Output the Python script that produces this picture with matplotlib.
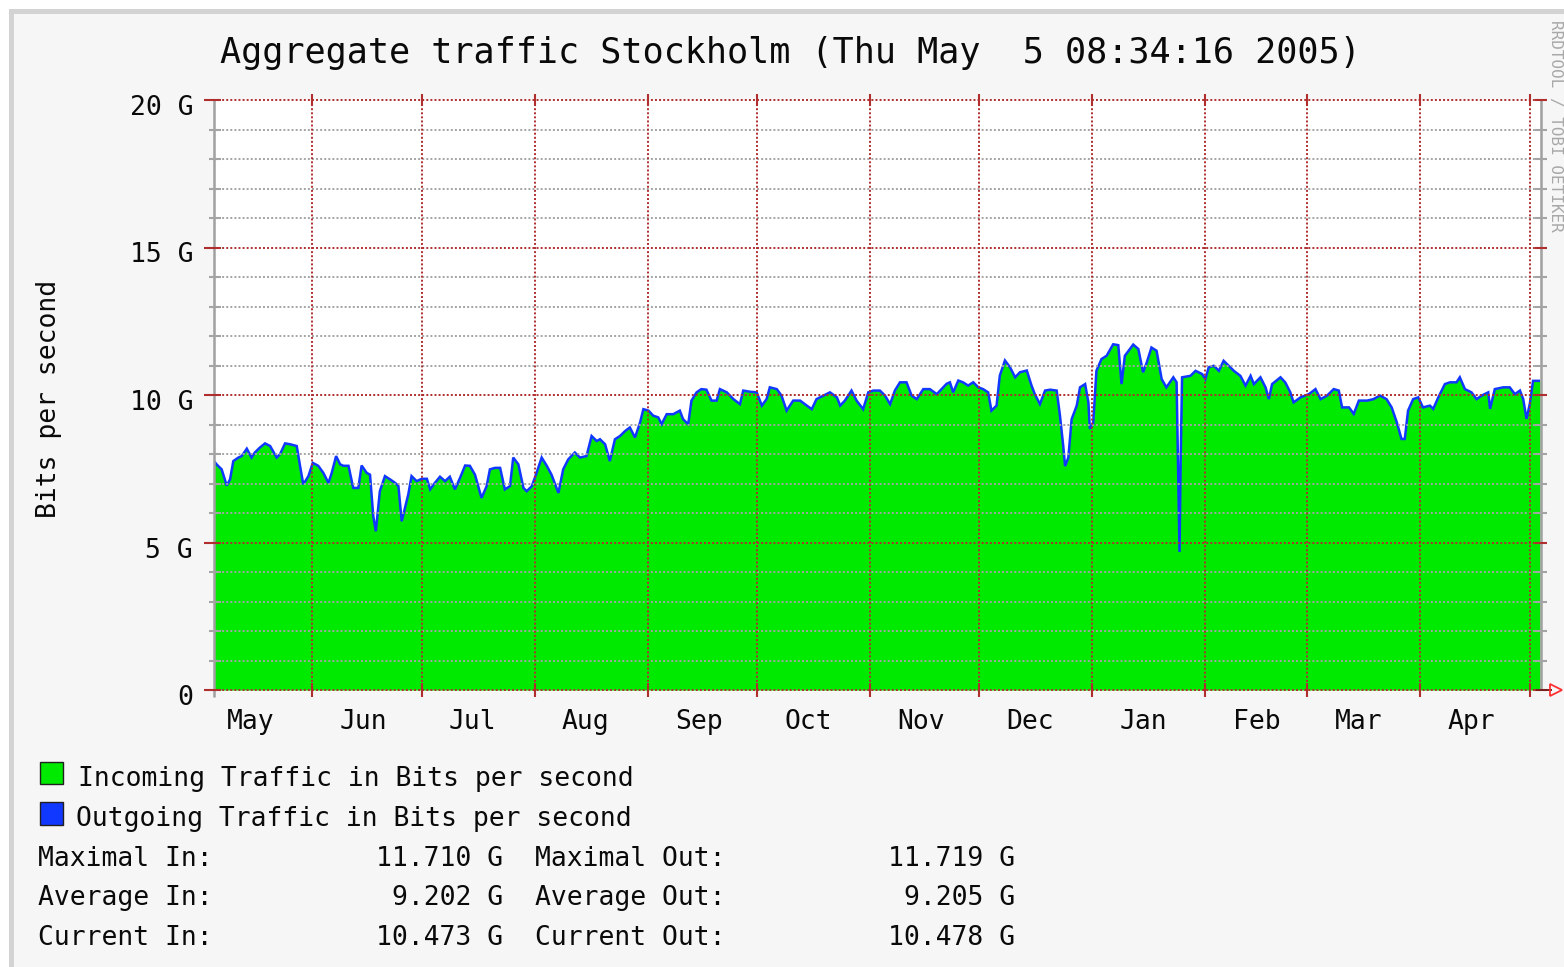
import numpy as np
import matplotlib
matplotlib.use('Agg')
import matplotlib.pyplot as plt
import matplotlib.transforms as mtransforms
from matplotlib.patches import Rectangle

# ---------------- data ----------------
title = "Aggregate traffic Stockholm (Thu May  5 08:34:16 2005)"
period_start = np.datetime64('2004-05-05')
period_days = 363.8

# sample positions, in days since period_start
days = [
    0.0, 0.7, 2.1, 3.5, 4.4, 5.3, 6.7, 7.6, 9.0, 10.3, 11.2, 12.6, 14.0, 15.4, 17.2,
    18.1, 19.5, 20.9, 22.7, 23.6, 24.5, 25.9, 27.1, 28.6, 30.0, 31.4, 32.3, 33.5, 34.6,
    35.5, 36.9, 38.2, 39.6, 40.5, 41.9, 42.8, 43.7, 44.4, 45.5, 46.9, 48.3, 49.7, 50.6,
    51.5, 52.4, 53.3, 54.2, 55.6, 57.0, 58.4, 59.3, 60.6, 62.0, 63.4, 64.7, 66.1, 67.5,
    68.9, 70.2, 71.6, 73.4, 74.8, 75.7, 77.1, 78.5, 79.8, 81.2, 82.1, 83.5, 84.9, 85.8,
    87.2, 88.5, 89.9, 91.3, 92.6, 94.5, 95.8, 97.2, 99.0, 100.4, 102.2, 103.6, 105.0,
    105.9, 107.3, 108.6, 110.0, 111.4, 112.8, 114.1, 115.5, 116.9, 117.8, 119.2, 120.5,
    121.9, 122.8, 124.2, 126.0, 127.8,
    128.7, 130.1, 131.0, 132.4, 133.7, 135.1, 136.5, 137.9, 138.8, 140.7, 142.5, 144.3,
    145.2, 147.1, 148.9, 150.3, 151.6, 152.5, 154.4, 155.7, 157.1, 158.9, 160.8, 162.1,
    164.0, 165.3, 167.2, 169.0, 170.9, 171.8, 173.1, 174.9, 176.3, 178.1, 179.5, 180.9,
    182.7, 184.1, 185.5, 186.8, 188.2, 190.0, 191.4, 192.8, 194.6, 196.4, 198.3, 199.6,
    201.0, 201.9, 202.8, 204.2, 205.5, 206.9, 208.3, 209.7, 211.0, 212.4, 213.3, 214.7,
    215.6, 217.0, 218.4, 219.8, 221.1, 223.0, 224.3, 225.2, 226.6, 228.0, 229.4, 231.2,
    232.1, 233.0, 233.5, 234.4, 235.3, 236.7,
    237.6, 239.0, 239.9, 240.3, 241.2, 242.1, 243.5, 244.9, 246.7, 248.1, 249.0, 249.9,
    252.2, 253.6, 254.9, 255.9, 257.2, 258.6, 260.0, 261.3, 263.2, 264.1, 264.5, 264.9,
    265.2, 265.6, 267.9, 269.3, 271.1, 272.0, 272.9, 274.3, 275.7, 277.0, 278.4, 279.8,
    281.6, 283.0, 284.4, 285.3, 287.1, 288.5, 289.4, 290.3, 292.6, 293.9, 295.3, 296.2,
    298.1, 300.4, 302.2, 303.6, 305.4, 307.2, 308.6, 309.5, 311.4, 312.7, 314.1, 316.4,
    318.1, 319.9, 321.7, 323.1, 324.5, 325.8, 326.7, 327.6, 329.0, 330.4, 331.7, 333.6,
    334.5, 335.9, 337.7, 339.1, 340.9, 341.8, 343.2, 345.0, 346.4, 347.8, 349.6, 350.1,
    351.4, 353.7, 355.5, 356.9, 358.3, 359.2, 360.1, 361.0, 361.9, 363.8,
]

# incoming traffic, Gbit/s
traffic_in = [
    7.76, 7.65, 7.48, 6.93, 7.14, 7.76, 7.88, 7.93, 8.18, 7.88, 8.05, 8.22, 8.36, 8.27, 7.88,
    7.99, 8.36, 8.33, 8.27, 7.60, 6.97, 7.25, 7.70, 7.60, 7.36, 7.02, 7.36, 7.93, 7.65,
    7.60, 7.60, 6.85, 6.85, 7.61, 7.36, 7.30, 5.89, 5.38, 6.74, 7.25, 7.14, 7.02, 6.91,
    5.72, 6.17, 6.63, 7.25, 7.08, 7.16, 7.16, 6.80, 7.02, 7.23, 7.08, 7.23, 6.80, 7.19,
    7.61, 7.60, 7.30, 6.51, 6.91, 7.48, 7.53, 7.53, 6.80, 6.91, 7.88, 7.65, 6.85, 6.74,
    6.91, 7.36, 7.88, 7.60, 7.30, 6.68, 7.48, 7.82, 8.05, 7.88, 7.93, 8.61, 8.44,
    8.50, 8.33, 7.76, 8.50, 8.61, 8.78, 8.90, 8.56, 9.07, 9.52, 9.47, 9.30,
    9.24, 9.01, 9.35, 9.35, 9.47,
    9.18, 9.01, 9.81, 10.09, 10.20, 10.18, 9.81, 9.81, 10.20, 10.09, 9.86, 9.69,
    10.15, 10.11, 10.09, 9.64, 9.86, 10.26, 10.20, 9.98, 9.47, 9.81, 9.81, 9.69,
    9.52, 9.86, 9.98, 10.09, 9.92, 9.64, 9.81, 10.15, 9.81, 9.52, 10.09, 10.15,
    10.15, 9.98, 9.69, 10.15, 10.43, 10.43, 9.98, 9.86, 10.20, 10.20, 10.03, 10.20,
    10.38, 10.43, 10.09, 10.49, 10.43, 10.32, 10.43, 10.26, 10.20, 10.09, 9.47, 9.64,
    10.66, 11.17, 10.94, 10.60, 10.77, 10.83, 10.32, 10.03, 9.69, 10.15, 10.18, 10.15,
    9.30, 8.27, 7.59, 7.88, 9.18, 9.64,
    10.26, 10.37, 9.75, 8.85, 9.02, 10.82, 11.22, 11.33, 11.71, 11.69, 10.37, 11.33,
    11.71, 11.56, 10.77, 11.10, 11.61, 11.50, 10.54, 10.26, 10.60, 10.43, 7.60, 7.60,
    7.70, 10.60, 10.65, 10.82, 10.71, 10.54, 10.94, 10.99, 10.82, 11.16, 10.99, 10.82,
    10.65, 10.32, 10.65, 10.37, 10.60, 10.26, 9.86, 10.37, 10.60, 10.43, 10.09, 9.75,
    9.92, 10.03, 10.20, 9.86, 9.98, 10.20, 10.15, 9.58, 9.58, 9.36, 9.81, 9.81,
    9.86, 9.98, 9.86, 9.58, 9.08, 8.51, 8.51, 9.47, 9.86, 9.92, 9.58, 9.64,
    9.53, 9.92, 10.37, 10.43, 10.43, 10.60, 10.20, 10.09, 9.86, 9.98, 10.09, 9.53,
    10.20, 10.26, 10.26, 10.03, 10.15, 9.86, 9.19, 9.70, 10.47, 10.47,
]

# outgoing traffic, Gbit/s
traffic_out = [
    7.76, 7.65, 7.48, 6.93, 7.14, 7.76, 7.88, 7.93, 8.18, 7.88, 8.05, 8.22, 8.36, 8.27, 7.88,
    7.99, 8.36, 8.33, 8.27, 7.60, 6.97, 7.25, 7.70, 7.60, 7.36, 7.02, 7.36, 7.93, 7.65,
    7.60, 7.60, 6.85, 6.85, 7.61, 7.36, 7.30, 5.89, 5.38, 6.74, 7.25, 7.14, 7.02, 6.91,
    5.72, 6.17, 6.63, 7.25, 7.08, 7.16, 7.16, 6.80, 7.02, 7.23, 7.08, 7.23, 6.80, 7.19,
    7.61, 7.60, 7.30, 6.51, 6.91, 7.48, 7.53, 7.53, 6.80, 6.91, 7.88, 7.65, 6.85, 6.74,
    6.91, 7.36, 7.88, 7.60, 7.30, 6.68, 7.48, 7.82, 8.05, 7.88, 7.93, 8.61, 8.44,
    8.50, 8.33, 7.76, 8.50, 8.61, 8.78, 8.90, 8.56, 9.07, 9.52, 9.47, 9.30,
    9.24, 9.01, 9.35, 9.35, 9.47,
    9.18, 9.01, 9.81, 10.09, 10.20, 10.18, 9.81, 9.81, 10.20, 10.09, 9.86, 9.69,
    10.15, 10.11, 10.09, 9.64, 9.86, 10.26, 10.20, 9.98, 9.47, 9.81, 9.81, 9.69,
    9.52, 9.86, 9.98, 10.09, 9.92, 9.64, 9.81, 10.15, 9.81, 9.52, 10.09, 10.15,
    10.15, 9.98, 9.69, 10.15, 10.43, 10.43, 9.98, 9.86, 10.20, 10.20, 10.03, 10.20,
    10.38, 10.43, 10.09, 10.49, 10.43, 10.32, 10.43, 10.26, 10.20, 10.09, 9.47, 9.64,
    10.66, 11.17, 10.94, 10.60, 10.77, 10.83, 10.32, 10.03, 9.69, 10.15, 10.18, 10.15,
    9.30, 8.27, 7.59, 7.88, 9.18, 9.64,
    10.26, 10.37, 9.75, 8.85, 9.02, 10.82, 11.22, 11.33, 11.72, 11.69, 10.37, 11.33,
    11.71, 11.56, 10.77, 11.10, 11.61, 11.50, 10.54, 10.26, 10.60, 10.43, 7.60, 4.68,
    7.70, 10.60, 10.65, 10.82, 10.71, 10.54, 10.94, 10.99, 10.82, 11.16, 10.99, 10.82,
    10.65, 10.32, 10.65, 10.37, 10.60, 10.26, 9.86, 10.37, 10.60, 10.43, 10.09, 9.75,
    9.92, 10.03, 10.20, 9.86, 9.98, 10.20, 10.15, 9.58, 9.58, 9.36, 9.81, 9.81,
    9.86, 9.98, 9.86, 9.58, 9.08, 8.51, 8.51, 9.47, 9.86, 9.92, 9.58, 9.64,
    9.53, 9.92, 10.37, 10.43, 10.43, 10.60, 10.20, 10.09, 9.86, 9.98, 10.09, 9.53,
    10.20, 10.26, 10.26, 10.03, 10.15, 9.86, 9.19, 9.70, 10.48, 10.48,
]

month_labels = ['May', 'Jun', 'Jul', 'Aug', 'Sep', 'Oct', 'Nov', 'Dec', 'Jan', 'Feb', 'Mar', 'Apr']
ytick_values = [0, 5, 10, 15, 20]
ytick_labels = ['0', '5 G', '10 G', '15 G', '20 G']
y_max = 20

legend_in = "Incoming Traffic in Bits per second"
legend_out = "Outgoing Traffic in Bits per second"
stat_names_in = ["Maximal In:", "Average In:", "Current In:"]
stat_values_in = ["11.710 G", "9.202 G", "10.473 G"]
stat_names_out = ["Maximal Out:", "Average Out:", "Current Out:"]
stat_values_out = ["11.719 G", "9.205 G", "10.478 G"]

# ---------------- derived calendar positions ----------------
month_starts = np.arange(np.datetime64('2004-06'), np.datetime64('2005-06'), dtype='datetime64[M]')
month_bounds = (month_starts.astype('datetime64[D]') - period_start).astype(int)
label_months = np.arange(np.datetime64('2004-05'), np.datetime64('2005-05'), dtype='datetime64[M]')
label_pos = (label_months.astype('datetime64[D]') + np.timedelta64(14, 'D') - period_start).astype(int)

# ---------------- style ----------------
W, H = 1564, 967
GREEN = '#00ea00'
BLUE = '#1038ff'
RED = '#b02e2e'
GRAY = '#a4a4a4'
AXGRAY = '#a0a0a0'
FONT = 'DejaVu Sans Mono'
TXT = '#0a0a0a'

def fx(x):
    return x / W

def fy(y):
    return 1 - y / H

fig = plt.figure(figsize=(W / 100, H / 100), dpi=100, facecolor='white')

# outer panel (behind everything)
fig.patches.append(Rectangle((fx(10.5), fy(H + 30)), fx(W + 30) - fx(10.5), fy(10.5) - fy(H + 30),
                             transform=fig.transFigure, facecolor='#f6f6f6',
                             edgecolor='#d3d3d3', lw=3.6, zorder=-10))

ax = fig.add_axes([fx(214), fy(690), fx(1540) - fx(214), fy(100) - fy(690)])
ax.set_zorder(1)
ax.set_facecolor('white')
ax.set_xlim(0, period_days)
ax.set_ylim(0, y_max)
ax.set_xticks([])
ax.set_yticks([])
for s in ax.spines.values():
    s.set_visible(False)

# data
ax.fill_between(days, traffic_in, 0, color=GREEN, lw=0, zorder=1)
ax.plot(days, traffic_out, color=BLUE, lw=1.8, zorder=2, solid_joinstyle='miter')

dot = (0, (1, 1.1))
# horizontal grid
for v in range(0, y_max + 1):
    major = v % 5 == 0
    ax.axhline(v, color=RED if major else GRAY, ls=dot, lw=1.4, zorder=3, clip_on=False)
# vertical grid
for d in month_bounds:
    ax.axvline(d, color=RED, ls=dot, lw=1.4, zorder=3)

trans_yx = mtransforms.blended_transform_factory(fig.transFigure, ax.transData)
trans_xy = mtransforms.blended_transform_factory(ax.transData, fig.transFigure)

# axis lines
ax.plot([fx(214), fx(214)], [fy(100), fy(697)], transform=fig.transFigure, color=AXGRAY,
        lw=1.8, clip_on=False, zorder=4, solid_capstyle='butt')
ax.plot([fx(1541), fx(1541)], [fy(100), fy(690)], transform=fig.transFigure, color=AXGRAY,
        lw=1.8, clip_on=False, zorder=4, solid_capstyle='butt')

# y ticks
for v in range(0, y_max + 1):
    major = v % 5 == 0
    c = RED if major else GRAY
    x0 = 204 if major else 209
    ax.plot([fx(x0), fx(221)], [v, v], transform=trans_yx, color=c, lw=1.5,
            clip_on=False, zorder=5, solid_capstyle='butt')
    ax.plot([fx(1535), fx(1547)], [v, v], transform=trans_yx, color=c, lw=1.5,
            clip_on=False, zorder=5, solid_capstyle='butt')

# x ticks
for d in month_bounds:
    ax.plot([d, d], [fy(683), fy(697)], transform=trans_xy, color=RED, lw=1.5,
            clip_on=False, zorder=5, solid_capstyle='butt')
    ax.plot([d, d], [fy(94), fy(106)], transform=trans_xy, color=RED, lw=1.5,
            clip_on=False, zorder=5, solid_capstyle='butt')

# x axis extension and arrow
ax.plot([fx(1536), fx(1552)], [0, 0], transform=trans_yx, color='#7a2020', lw=1.4,
        clip_on=False, zorder=5, solid_capstyle='butt')
ax.plot([fx(1556)], [0], transform=trans_yx, marker='>', ms=8, mfc='none', mec='#ff3030',
        mew=1.3, clip_on=False, zorder=5)

# tick labels
ylab_tr = mtransforms.offset_copy(trans_yx, fig=fig, y=-15, units='dots')
for v, lab in zip(ytick_values, ytick_labels):
    ax.text(fx(193), v, lab, transform=ylab_tr, ha='right', va='baseline',
            fontsize=19, family=FONT, color=TXT, clip_on=False)
for d, lab in zip(label_pos, month_labels):
    ax.text(d, fy(729), lab, transform=trans_xy, ha='center', va='baseline',
            fontsize=19, family=FONT, color=TXT, clip_on=False)

fig.text(fx(56), fy(399), 'Bits per second', rotation=90, rotation_mode='anchor',
         ha='center', va='baseline', fontsize=19, family=FONT, color=TXT)

# title
fig.text(fx(220), fy(63), title, ha='left', va='baseline', fontsize=25.3, family=FONT, color=TXT)

# watermark on the right
fig.text(fx(1563), fy(20), 'RRDTOOL / TOBI OETIKER', rotation=270, ha='right', va='top',
         fontsize=11.5, family=FONT, color='#a8a8a8')

# legend
fig.patches.append(Rectangle((fx(40), fy(784)), fx(63) - fx(40), fy(762) - fy(784),
                             transform=fig.transFigure, facecolor=GREEN, edgecolor='#202020', lw=1))
fig.patches.append(Rectangle((fx(40), fy(825)), fx(63) - fx(40), fy(802) - fy(825),
                             transform=fig.transFigure, facecolor=BLUE, edgecolor='#202020', lw=1))
fig.text(fx(78), fy(786), legend_in, ha='left', va='baseline', fontsize=19, family=FONT, color=TXT)
fig.text(fx(76), fy(826), legend_out, ha='left', va='baseline', fontsize=19, family=FONT, color=TXT)

for i, yb in enumerate([866, 905, 945]):
    fig.text(fx(38), fy(yb), stat_names_in[i], ha='left', va='baseline', fontsize=19, family=FONT, color=TXT)
    fig.text(fx(503), fy(yb), stat_values_in[i], ha='right', va='baseline', fontsize=19, family=FONT, color=TXT)
    fig.text(fx(535), fy(yb), stat_names_out[i], ha='left', va='baseline', fontsize=19, family=FONT, color=TXT)
    fig.text(fx(1015), fy(yb), stat_values_out[i], ha='right', va='baseline', fontsize=19, family=FONT, color=TXT)

fig.savefig('out.png', dpi=100, facecolor='white')
